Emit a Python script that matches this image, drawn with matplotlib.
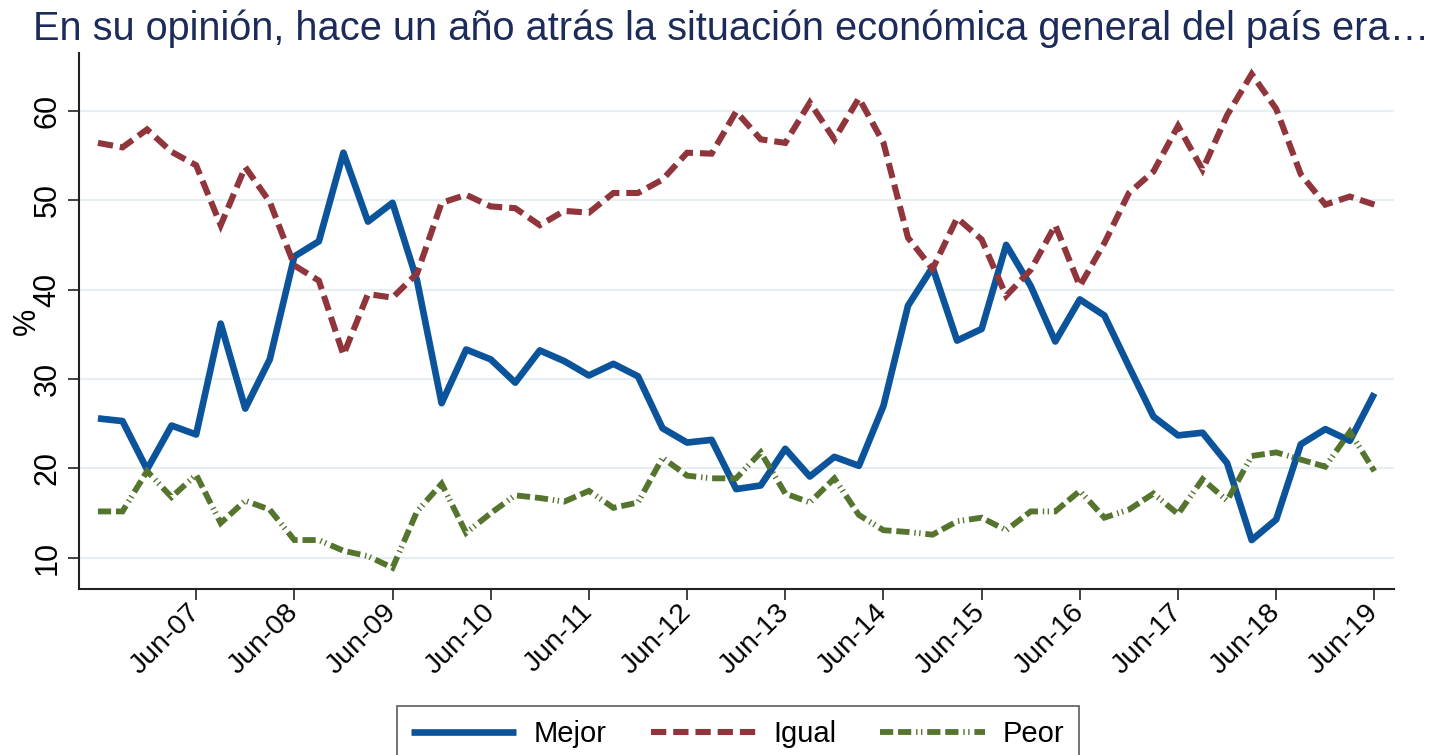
import numpy as np
import pandas as pd
import matplotlib
matplotlib.use("Agg")
import matplotlib.pyplot as plt

# ─────────────────────────────────────────────
#  DATA  (quarterly, Jun-06 → Jun-19)
# ─────────────────────────────────────────────
quarters = pd.period_range("2006Q2", "2019Q2", freq="Q")

mejor = [25.6, 25.3, 19.9, 24.8, 23.8, 36.2, 26.7, 32.2, 43.7, 45.4,
         55.3, 47.6, 49.7, 41.0, 27.3, 33.3, 32.2, 29.6, 33.2, 32.0,
         30.4, 31.7, 30.3, 24.5, 22.9, 23.2, 17.7, 18.1, 22.2, 19.1,
         21.3, 20.3, 27.0, 38.2, 42.5, 34.3, 35.6, 45.0, 40.4, 34.2,
         38.9, 37.1, 31.4, 25.8, 23.7, 24.0, 20.6, 12.0, 14.3, 22.7,
         24.4, 23.1, 28.4]

igual = [56.4, 55.9, 57.9, 55.4, 53.9, 47.2, 53.7, 49.8, 42.7, 41.0,
         32.7, 39.5, 39.1, 41.8, 49.7, 50.6, 49.3, 49.1, 47.2, 48.8,
         48.6, 50.8, 50.8, 52.3, 55.3, 55.2, 59.9, 56.8, 56.4, 60.9,
         56.8, 61.4, 56.4, 45.8, 42.3, 48.0, 45.6, 39.3, 42.2, 47.2,
         40.4, 45.2, 50.8, 53.2, 58.3, 53.4, 59.5, 64.1, 60.2, 52.9,
         49.5, 50.4, 49.5]

peor = [15.2, 15.2, 19.7, 16.8, 19.3, 13.9, 16.4, 15.4, 12.0, 12.0,
        10.8, 10.2, 8.9, 15.2, 18.3, 12.8, 15.0, 17.0, 16.7, 16.3,
        17.5, 15.6, 16.2, 21.2, 19.2, 18.9, 18.9, 21.8, 17.2, 16.2,
        18.9, 14.8, 13.1, 12.9, 12.6, 14.1, 14.5, 13.1, 15.2, 15.2,
        17.5, 14.5, 15.4, 17.2, 14.9, 18.8, 16.4, 21.4, 21.8, 21.0,
        20.2, 24.1, 19.7]

y_ticks = [10, 20, 30, 40, 50, 60]

TITLE = "En su opinión, hace un año atrás la situación económica general del país era…"

# ─────────────────────────────────────────────
#  STYLE
# ─────────────────────────────────────────────
COLORS = {
    "mejor": "#0b539b",
    "igual": "#90353b",
    "peor":  "#55752f",
    "title": "#1c2b5a",
    "grid":  "#e6eef1",
    "axis":  "#222222",
}

plt.rcParams.update({
    "font.family": ["Liberation Sans", "DejaVu Sans"],
    "lines.scale_dashes": False,
})

# ─────────────────────────────────────────────
#  FIGURE
# ─────────────────────────────────────────────
fig = plt.figure(figsize=(14.45, 7.55), dpi=100)
fig.patch.set_facecolor("white")
ax = fig.add_axes([0.0547, 0.2199, 0.9102, 0.7099])

x = np.arange(len(quarters))

ax.plot(x, mejor, color=COLORS["mejor"], lw=4.8, solid_joinstyle="round",
        solid_capstyle="butt", label="Mejor", zorder=3)
ax.plot(x, igual, color=COLORS["igual"], lw=4.4, dashes=(11, 5),
        dash_joinstyle="miter", dash_capstyle="butt", label="Igual", zorder=4)
ax.plot(x, peor, color=COLORS["peor"], lw=4.2,
        dashes=(9.5, 3.5, 9.5, 3.5, 1.0, 2.5, 1.0, 3.5),
        dash_joinstyle="miter", dash_capstyle="butt", label="Peor", zorder=5)

# axes
ax.set_xlim(-0.77, 52.81)
ax.set_ylim(6.53, 66.45)

june_idx = [i for i, q in enumerate(quarters) if q.quarter == 2 and q.year >= 2007]
ax.set_xticks(june_idx)
ax.set_xticklabels([quarters[i].strftime("Jun-%y") for i in june_idx],
                   rotation=45, ha="right", va="center", rotation_mode="anchor",
                   fontsize=20.5)

ax.set_yticks(y_ticks)
ax.set_yticklabels([str(v) for v in y_ticks], rotation=90, va="center",
                   fontsize=22)

ax.tick_params(axis="x", length=8, width=1.2, pad=6, color=COLORS["axis"])
ax.tick_params(axis="y", length=8, width=1.2, pad=4, color=COLORS["axis"])

ax.grid(axis="y", color=COLORS["grid"], lw=1.6)
ax.set_axisbelow(True)

for side in ("top", "right"):
    ax.spines[side].set_visible(False)
for side in ("left", "bottom"):
    ax.spines[side].set_color(COLORS["axis"])
    ax.spines[side].set_linewidth(1.5)

ax.set_ylabel("%", fontsize=22)
ax.yaxis.set_label_coords(-0.028, 0.5)

# title
fig.text(33 / 1445, 1 - 40 / 755, TITLE, fontsize=28.6, color=COLORS["title"],
         ha="left", va="baseline")

# legend (bottom, partly cut off like the original)
leg = fig.legend(loc="upper left", bbox_to_anchor=(396.7 / 1445, 1 - 705.7 / 755),
                 ncol=3, fontsize=21, frameon=True, fancybox=False,
                 handlelength=3.6, handletextpad=0.6, columnspacing=1.5,
                 borderpad=0.5, borderaxespad=0)
leg.get_frame().set_edgecolor("#333333")
leg.get_frame().set_linewidth(1.2)

fig.savefig("out.png", dpi=100, facecolor="white")
